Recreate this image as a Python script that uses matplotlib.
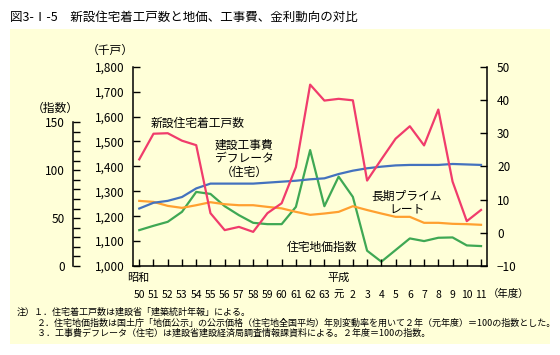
import matplotlib
matplotlib.use("Agg")
import matplotlib.pyplot as plt
from matplotlib.patches import Rectangle
from matplotlib.ticker import MultipleLocator, FixedLocator, FuncFormatter

plt.rcParams['font.family'] = ['Noto Sans CJK JP', 'DejaVu Sans']

# ---- data ----
years = ['50', '51', '52', '53', '54', '55', '56', '57', '58', '59', '60', '61', '62', '63',
         '元', '2', '3', '4', '5', '6', '7', '8', '9', '10', '11']
housing_starts = [1428, 1531, 1533, 1503, 1485, 1212, 1144, 1157, 1137, 1212, 1252, 1397, 1728,
                  1664, 1671, 1665, 1343, 1428, 1511, 1561, 1484, 1628, 1339, 1180, 1225]   # 千戸
deflator = [60, 66, 68, 72, 81, 86, 86, 86, 86, 87, 88, 89, 90.5, 91.5, 96, 99.5, 102,
            103.7, 105, 105.5, 105.5, 105.5, 106.5, 106, 105.5]                           # 指数
land_price = [0.8, 2.1, 3.3, 6.3, 12.3, 11.7, 8.0, 5.3, 3.0, 2.6, 2.6, 7.8, 24.9, 8.0, 16.9,
              10.8, -5.4, -8.7, -5.2, -1.7, -2.5, -1.5, -1.4, -3.8, -4.0]                # 右軸
prime_rate = [9.6, 9.3, 8.1, 7.5, 8.3, 9.2, 8.6, 8.3, 8.3, 7.8, 7.35, 6.3, 5.4, 5.8, 6.3,
              8.0, 6.85, 5.8, 4.8, 4.8, 3.0, 3.0, 2.7, 2.6, 2.4]                          # 右軸

RED = '#F03C6C'
BLUE = '#4472BE'
GREEN = '#3FA854'
ORANGE = '#FFA030'
BG = '#FFFFD8'

W, H = 560, 355
fig = plt.figure(figsize=(W / 100, H / 100), dpi=100)
fig.patch.set_facecolor('white')
bg = Rectangle((10 / W, 1 - 344 / H), 540 / W, 315 / H,
               transform=fig.transFigure, facecolor=BG, edgecolor='none', zorder=-10)
fig.add_artist(bg)

left, right, top, bottom = 132.7, 487.3, 66.7, 266.0
ax = fig.add_axes([left / W, 1 - bottom / H, (right - left) / W, (bottom - top) / H])
ax.set_facecolor('none')
x = list(range(len(years)))

axr = ax.twinx()
axr.set_facecolor('none')
axi = ax.twinx()
axi.set_facecolor('none')

fs_tick = 8.5

# --- main axis (千戸) ---
ax.set_xlim(-0.46, 24.44)
ax.set_ylim(1000, 1800)
ax.yaxis.set_major_locator(MultipleLocator(100))
ax.yaxis.set_major_formatter(FuncFormatter(lambda v, p: f'{int(v):,}'))
ax.tick_params(axis='y', direction='in', length=5, width=1, pad=6, labelsize=fs_tick)
ax.set_xticks(x)
ax.set_xticklabels(years)
ax.tick_params(axis='x', direction='in', length=5, width=1, pad=17, labelsize=7.5)
for s in ['top', 'right']:
    ax.spines[s].set_visible(False)
for s in ['left', 'bottom']:
    ax.spines[s].set_linewidth(1.1)

# --- right axis ---
axr.set_ylim(-10, 50)
axr.yaxis.set_major_locator(MultipleLocator(10))
axr.tick_params(axis='y', direction='in', length=5, width=1, pad=7, labelsize=fs_tick)
for s in ['top', 'left', 'bottom']:
    axr.spines[s].set_visible(False)
axr.spines['right'].set_linewidth(1.1)

# --- index axis ---
idx_top = 150 / ((266 - 122.3) / 199.3)
axi.set_ylim(0, idx_top)
axi.yaxis.set_label_position('left')
axi.yaxis.tick_left()
axi.spines['left'].set_position(('axes', (73 - left) / (right - left)))
axi.spines['left'].set_bounds(0, 150)
axi.spines['left'].set_linewidth(1.1)
for s in ['top', 'right', 'bottom']:
    axi.spines[s].set_visible(False)
axi.yaxis.set_major_locator(FixedLocator([0, 50, 100, 150]))
axi.yaxis.set_minor_locator(FixedLocator(list(range(0, 151, 10))))
axi.tick_params(axis='y', which='both', direction='in', length=5, width=1, pad=6, labelsize=fs_tick)

# --- lines ---
axr.plot(x, land_price, color=GREEN, lw=1.6, zorder=2)
axr.plot(x, prime_rate, color=ORANGE, lw=1.6, zorder=2)
axi.plot(x, deflator, color=BLUE, lw=1.6, zorder=3)
ax.set_zorder(axi.get_zorder() + 1)
ax.plot(x, housing_starts, color=RED, lw=1.6, zorder=4)

# --- annotations ---
fs_lab = 8.5
ax.text(4.12, 1572, '新設住宅着工戸数', ha='center', va='center', fontsize=fs_lab)
ax.text(7.35, 1432, '建設工事費\nデフレータ\n（住宅）', ha='center', va='center', fontsize=fs_lab,
        linespacing=1.05)
ax.text(18.8, 1254, '長期プライム\nレート', ha='center', va='center', fontsize=fs_lab, linespacing=1.05)
ax.text(12.83, 1076, '住宅地価指数', ha='center', va='center', fontsize=fs_lab)

def px(xp, yp):
    return xp / W, 1 - yp / H

fig.text(*px(138, 278), '昭和', ha='center', va='center', fontsize=8)
fig.text(*px(338.7, 278), '平成', ha='center', va='center', fontsize=8)
fig.text(*px(488, 294), '（年度）', ha='left', va='center', fontsize=7.5)
fig.text(*px(110, 50), '（千戸）', ha='center', va='center', fontsize=fs_lab)
fig.text(*px(55, 108), '（指数）', ha='center', va='center', fontsize=fs_lab)

fig.text(*px(10, 17), '図3-Ⅰ-5　新設住宅着工戸数と地価、工事費、金利動向の対比',
         ha='left', va='center', fontsize=9)

fs_note = 6.5
fig.text(*px(17, 312), '注）１．住宅着工戸数は建設省「建築統計年報」による。', ha='left', va='center', fontsize=fs_note)
fig.text(*px(37, 323), '２．住宅地価指数は国土庁「地価公示」の公示価格（住宅地全国平均）年別変動率を用いて２年（元年度）＝100の指数とした。',
         ha='left', va='center', fontsize=fs_note)
fig.text(*px(37, 333), '３．工事費デフレータ（住宅）は建設省建設経済局調査情報課資料による。２年度＝100の指数。',
         ha='left', va='center', fontsize=fs_note)

fig.savefig('out.png', dpi=100)
